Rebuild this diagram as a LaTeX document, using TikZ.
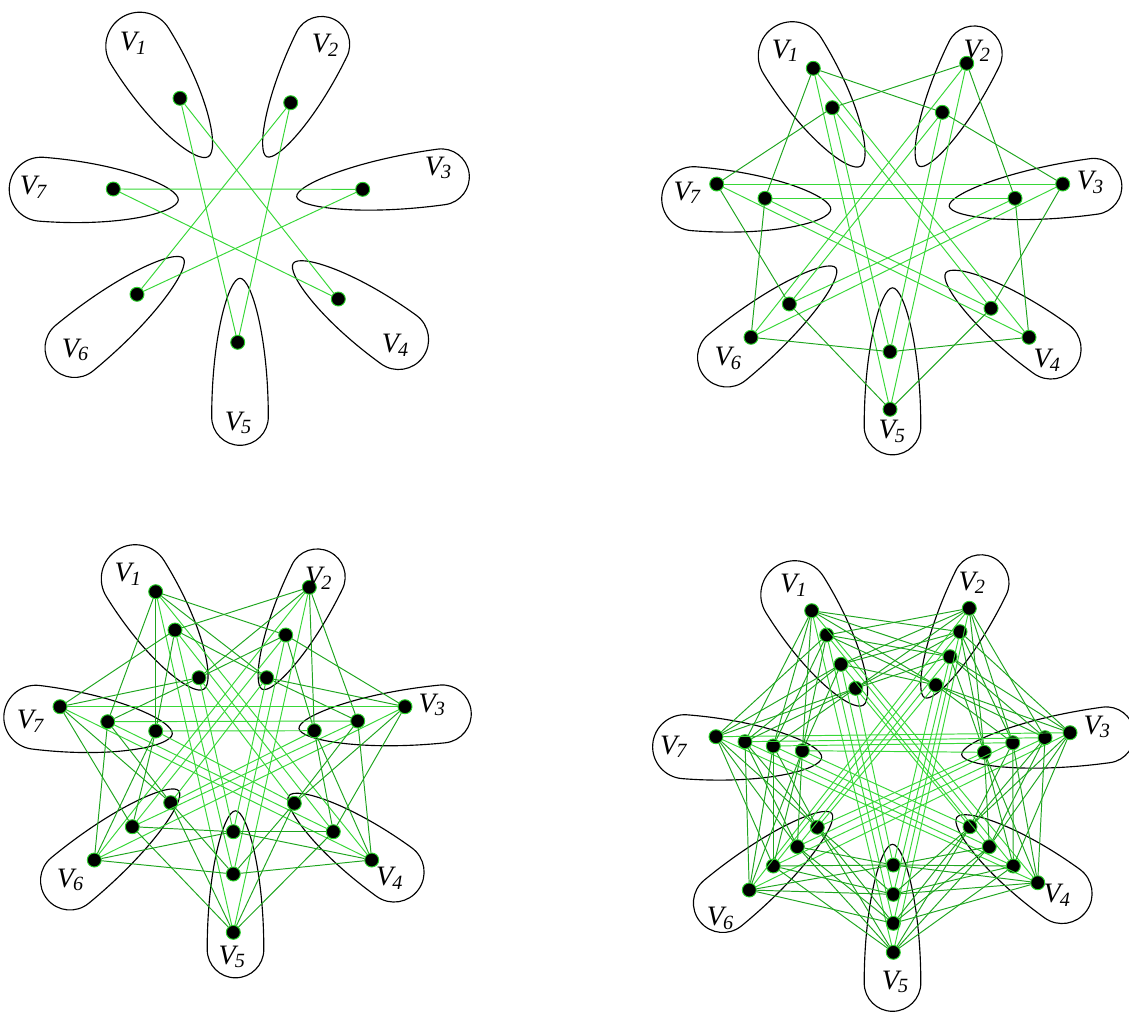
\documentclass[tikz,border=0pt]{standalone}
\usepackage{fontspec}
\setmainfont{Liberation Serif}
\definecolor{adjgreen}{RGB}{30,165,30}
\definecolor{fargreen}{RGB}{55,215,55}
\definecolor{ringgreen}{RGB}{40,210,40}
\newcommand\mypetal[5]{%
  \begin{scope}[shift={(#1,#2)},rotate=#3]
    \draw[petal] (0,0) .. controls (0,{0.4*#5}) and ({0.42*#4},{#5}) .. ({#4},{#5})
      .. controls ({#4+0.5523*#5},{#5}) and ({#4+#5},{0.5523*#5}) .. ({#4+#5},0)
      .. controls ({#4+#5},{-0.5523*#5}) and ({#4+0.5523*#5},{-#5}) .. ({#4},{-#5})
      .. controls ({0.42*#4},{-#5}) and (0,{-0.4*#5}) .. cycle;
  \end{scope}}
\newcommand\basepetals{%
  \mypetal{208.3}{156.7}{121.8}{130}{34}
  \mypetal{266.7}{156.7}{63.9}{125}{28}
  \mypetal{296.7}{196.7}{7.8}{146}{28}
  \mypetal{293.3}{263.3}{-35.9}{130}{30}
  \mypetal{240}{278.3}{-90}{138.7}{28.3}
  \mypetal{183.3}{258.3}{-140.5}{141}{29.5}
  \mypetal{178.3}{200}{175.5}{137.5}{32}}
\newcommand\paneledges[2]{%
  \foreach \i in {1,...,7}{%
    \pgfmathtruncatemacro\ia{mod(\i,7)+1}%
    \pgfmathtruncatemacro\ic{mod(\i+2,7)+1}%
    \foreach \j in {1,...,#2}{%
      \draw[far] (#1-\i-\j) -- (#1-\ic-\j);
      \foreach \jj in {1,...,#2}{%
        \ifnum\j=\jj\relax\else\draw[adj] (#1-\i-\j) -- (#1-\ia-\jj);\fi
      }%
    }%
  }}
\newcommand\vlab[1]{{\fontsize{16}{16}\selectfont V}\kern-0.5pt\raisebox{-0.45ex}{\fontsize{11.5}{11.5}\selectfont #1}}
\begin{document}
\begin{tikzpicture}[x=0.02cm,y=-0.02cm,
  petal/.style={draw=black,line width=0.65pt},
  vtx/.style={circle,fill=black,draw=ringgreen,line width=0.55pt,inner sep=0pt,minimum size=0.28cm},
  lab/.style={font=\itshape,inner sep=0pt},
  adj/.style={draw=adjgreen,line width=0.55pt},
  far/.style={draw=fargreen,line width=0.55pt}]
\useasboundingbox (0,0) rectangle (1129,1011);

% ---------- petals ----------
\basepetals
\begin{scope}[shift={(652.5,9.5)}]\basepetals\end{scope}
\begin{scope}[shift={(-4.5,532.5)}]
  \mypetal{208.3}{156.7}{121.8}{130}{34}
  \mypetal{266.7}{156.7}{63.9}{125}{28}
  \mypetal{293.3}{263.3}{-35.9}{130}{30}
  \mypetal{240}{278.3}{-90}{138.7}{28.3}
  \mypetal{183.3}{258.3}{-140.5}{141}{29.5}
\end{scope}
\mypetal{299}{728.5}{5.8}{144}{29}
\mypetal{172.3}{734}{173}{137.5}{32}
% panel 4
\mypetal{863.3}{705.2}{121.8}{130}{34}
\mypetal{924.7}{697.7}{63.9}{128}{28}
\mypetal{961.7}{754.7}{7.8}{146}{28}
\mypetal{956.8}{817.3}{-35.9}{130}{30}
\mypetal{892.5}{844.3}{-90}{138.7}{28.3}
\mypetal{831.7}{813.3}{-140.5}{141}{29.5}
\mypetal{821.7}{757.5}{175.5}{137.5}{32}

% ---------- vertices ----------
\foreach \i/\j/\x/\y in {1/1/180/98.3, 2/1/290.7/102.7, 3/1/362.7/189.3, 4/1/338.3/299,
  5/1/237.7/342.3, 6/1/137/294.3, 7/1/113.3/189}
  \node[vtx] (A-\i-\j) at (\x,\y) {};
\foreach \i/\j/\x/\y in {1/1/813.3/68.3, 1/2/832.3/107.7, 2/1/966.7/63.3, 2/2/942.3/112.3,
  3/1/1062.7/184, 3/2/1015/198.3, 4/1/1029/337.3, 4/2/991/308.3,
  5/1/890/409.3, 5/2/890/351.7, 6/1/751/337.3, 6/2/789.3/304,
  7/1/716.7/184, 7/2/765/198.3}
  \node[vtx] (B-\i-\j) at (\x,\y) {};
\foreach \i/\j/\x/\y in {1/1/155.7/591.7, 1/2/175/630, 1/3/199/677.7,
  2/1/309.3/587.3, 2/2/285.7/635, 2/3/266.7/677.7,
  3/1/405/706.7, 3/2/357.7/721, 3/3/314.3/730.7,
  4/1/371.7/860, 4/2/333.3/831.7, 4/3/294.3/803.3,
  5/1/233.3/932.3, 5/2/233.3/874, 5/3/233.3/831.7,
  6/1/94.3/860, 6/2/132.3/826.7, 6/3/170.7/802.7,
  7/1/60/706.7, 7/2/107.7/721.7, 7/3/155.7/731}
  \node[vtx] (C-\i-\j) at (\x,\y) {};
\foreach \i/\j/\x/\y in {1/1/811.7/610.7, 1/2/826.7/635, 1/3/841/664.3, 1/4/855.7/688.3,
  2/1/969.3/608.3, 2/2/960/631.7, 2/3/950/656.7, 2/4/935.7/685,
  3/1/1070/732.7, 3/2/1045/737.7, 3/3/1012.7/742.7, 3/4/984.3/752.3,
  4/1/1037.7/882.7, 4/2/1013.3/866, 4/3/989.3/846.7, 4/4/970/826.7,
  5/1/893.3/952.3, 5/2/893.3/923.3, 5/3/893.3/894.3, 5/4/893.3/865,
  6/1/749.3/890, 6/2/773.3/866, 6/3/797.3/846.7, 6/4/817.3/827.3,
  7/1/716/736.7, 7/2/745/741.7, 7/3/773.3/746, 7/4/802.3/750.7}
  \node[vtx] (D-\i-\j) at (\x,\y) {};

% ---------- edges ----------
\paneledges{A}{1}
\paneledges{B}{2}
\paneledges{C}{3}
\paneledges{D}{4}

% ---------- labels ----------
\foreach \p/\i/\x/\y in {A/1/133/43, A/2/325/45, A/3/438/168, A/4/395/345, A/5/238/423, A/6/75/350, A/7/33/187,
  B/1/785/50.7, B/2/976.7/50.7, B/3/1090/182.7, B/4/1046.7/360, B/5/891.7/431.7, B/6/727.7/358.3, B/7/686.7/192.7,
  C/1/127.7/574.3, C/2/318.3/578.3, C/3/431.7/705, C/4/389.3/878.3, C/5/231.7/956.7, C/6/70/880, C/7/30/721,
  D/1/793.3/585, D/2/971.7/582.7, D/3/1096.7/726.7, D/4/1056.7/895, D/5/895/981.7, D/6/720/918.3, D/7/673.3/746.7}
  \node[lab] (L\p-\i) at (\x,\y) {\vlab{\i}};
\end{tikzpicture}
\end{document}
